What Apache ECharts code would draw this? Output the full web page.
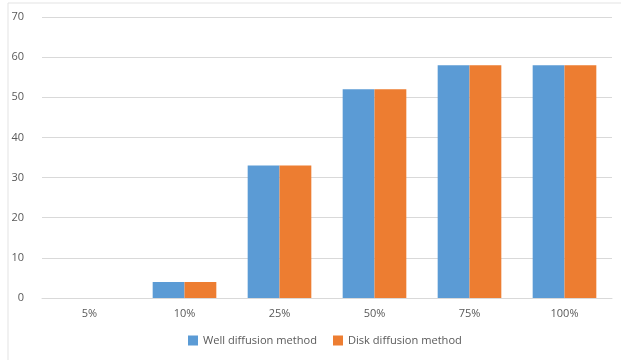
<!DOCTYPE html>
<html><head><meta charset="utf-8">
<script src="https://cdn.jsdelivr.net/npm/echarts@6/dist/echarts.min.js"></script>
<style>html,body{margin:0;padding:0;background:#fff}#c{width:621px;height:360px}</style>
</head><body><div id="c"></div>
<script>
const categories = ['5%', '10%', '25%', '50%', '75%', '100%'];
const wellValues = [0, 4, 33, 52, 58, 58];
const diskValues = [0, 4, 33, 52, 58, 58];
const seriesNames = ['Well diffusion method', 'Disk diffusion method'];

const chart = echarts.init(document.getElementById('c'));
const font = '"Open Sans", "Liberation Sans", Arial, sans-serif';
chart.setOption({
  animation: false,
  backgroundColor: '#fff',
  graphic: [{type: 'rect', shape: {x: 8, y: 3, width: 640, height: 400}, style: {fill: 'none', stroke: '#e3e3e3', lineWidth: 1}, silent: true}],
  grid: {left: 42, right: 9, top: 17, bottom: 62, containLabel: false},
  legend: {
    data: seriesNames, bottom: 9, left: 183, itemWidth: 10, itemHeight: 10, itemGap: 16,
    icon: 'rect',
    textStyle: {color: '#595959', fontSize: 11.1, fontFamily: font}
  },
  xAxis: {
    type: 'category', data: categories,
    axisLine: {show: true, lineStyle: {color: '#d9d9d9'}},
    axisTick: {show: false},
    axisLabel: {color: '#595959', fontSize: 11, fontFamily: font, margin: 10}
  },
  yAxis: {
    type: 'value', min: 0, max: 70, interval: 10,
    axisLine: {show: false}, axisTick: {show: false},
    splitLine: {lineStyle: {color: '#d9d9d9'}},
    axisLabel: {color: '#595959', fontSize: 11, fontFamily: font, margin: 18}
  },
  series: [
    {name: seriesNames[0], type: 'bar', data: wellValues, barGap: '0%', barCategoryGap: '33%', itemStyle: {color: '#5B9BD5'}},
    {name: seriesNames[1], type: 'bar', data: diskValues, barGap: '0%', barCategoryGap: '33%', itemStyle: {color: '#ED7D31'}}
  ]
});
</script></body></html>
